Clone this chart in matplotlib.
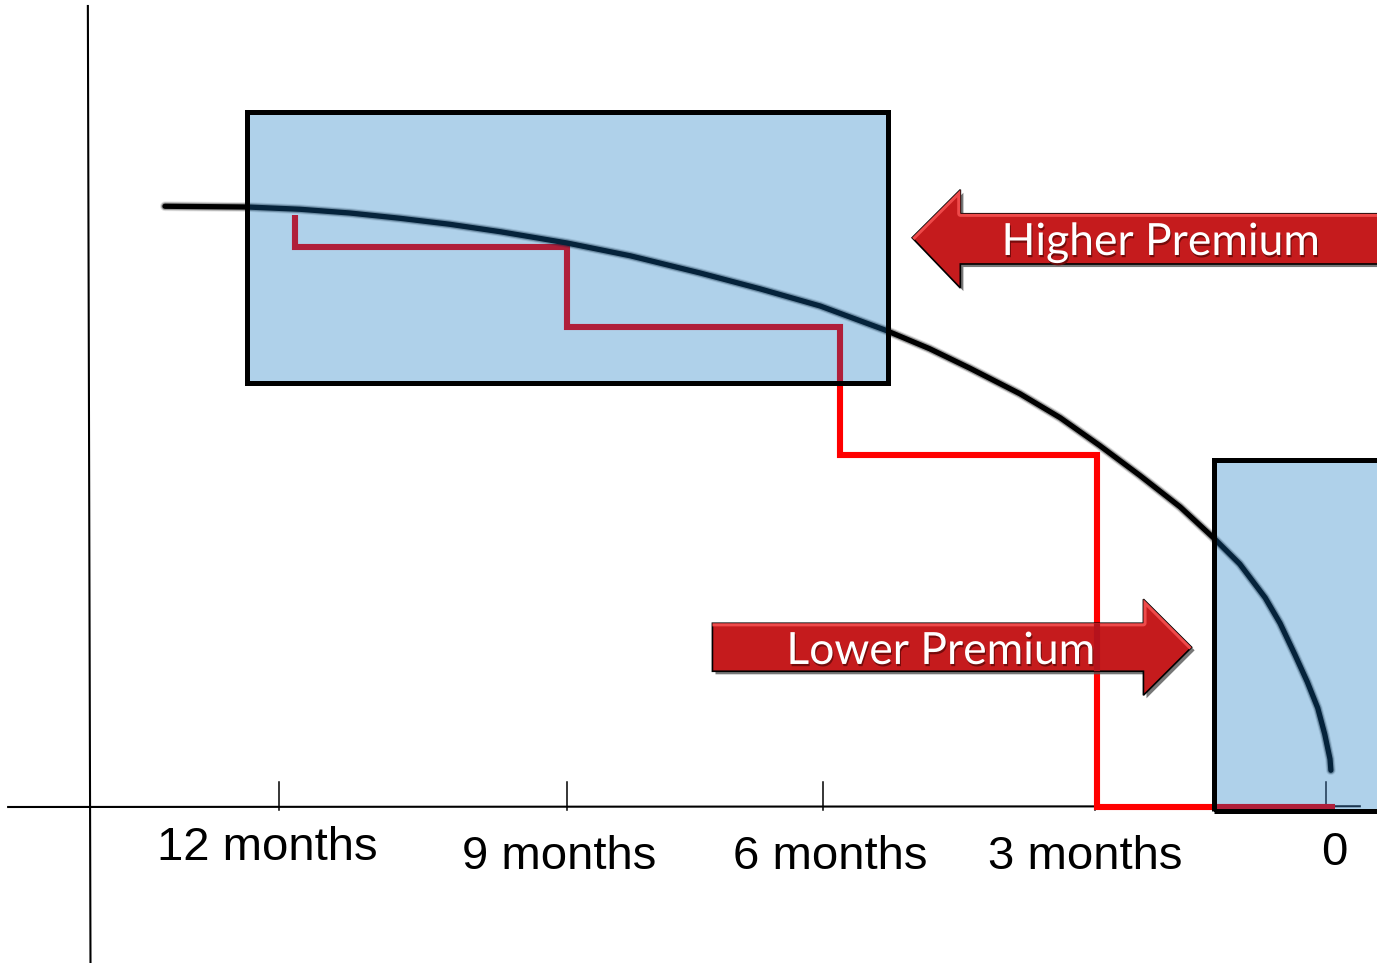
import numpy as np
import matplotlib.pyplot as plt
import matplotlib.patheffects as pe
from matplotlib.patches import Rectangle, Polygon

# Courbe de valeur temps (mois avant échéance -> prime)
curve_months = [13.30, 12.36, 11.76, 11.19, 10.62, 10.05, 9.47, 8.71, 7.99,
                7.19, 6.51, 5.82, 5.08, 4.57, 4.11, 3.54, 3.08, 2.63, 2.17,
                1.71, 1.34, 1.03, 0.74, 0.57, 0.40, 0.26, 0.14, 0.06, 0.0, -0.01]
curve_value = [80.1, 80.0, 79.7, 79.2, 78.5, 77.7, 76.7, 75.2, 73.5,
               71.2, 69.1, 66.8, 63.6, 61.1, 58.5, 55.1, 51.9, 48.2, 44.2,
               40.0, 36.0, 32.4, 27.9, 24.5, 20.3, 16.7, 13.2, 9.7, 6.4, 4.9]

# Prime encaissée par palier de 3 mois
step_months = [11.82, 11.82, 8.71, 8.71, 5.59, 5.59, 2.66, 2.66, -0.06]
step_value = [78.9, 74.7, 74.7, 64.0, 64.0, 46.9, 46.9, 0.0, 0.0]

tick_months = [12.0, 8.71, 5.79, 2.68, 0.05]
tick_labels = ["12 months", "9 months", "6 months", "3 months", "0"]

BLEU = "#AFD1EA"
MARINE = "#05233B"
ROUGE = "#FF0000"
CRAMOISI = "#B01F3A"
FLECHE = "#C51B1D"

fig = plt.figure(figsize=(13.77, 9.63), dpi=100)
ax = fig.add_axes([0, 0, 1, 1])
ax.set_xlim(15.183, -0.5365)
ax.set_ylim(-20.8, 107.6)
ax.axis("off")


def tracer_axes(couleur, zorder, clip=None):
    """Axes et graduations."""
    arts = []
    arts += ax.plot([14.18, 14.15], [106.8, -20.8], color=couleur, lw=1.5, zorder=zorder)
    arts += ax.plot([15.09, -0.34], [0, 0.1], color=couleur, lw=1.5, zorder=zorder)
    for m in tick_months:
        arts += ax.plot([m, m], [3.4, -0.4], color=couleur, lw=1.1, zorder=zorder)
    if clip is not None:
        for a in arts:
            a.set_clip_path(clip)


def tracer_courbes(c_courbe, c_palier, zorder, clip=None):
    """Courbe de décroissance (un peu floue) + paliers de prime."""
    arts = []
    arts += ax.plot(step_months, step_value, color=c_palier, lw=4.4,
                    solid_joinstyle="miter", solid_capstyle="butt", zorder=zorder)
    for lw, a in [(7.0, 0.12), (5.5, 0.3), (3.8, 1.0)]:
        arts += ax.plot(curve_months, curve_value, color=c_courbe, lw=lw, alpha=a,
                        solid_capstyle="round", solid_joinstyle="round",
                        zorder=zorder + 0.1)
    if clip is not None:
        for a in arts:
            a.set_clip_path(clip)


# version normale (hors cadres)
tracer_axes("black", 1)
tracer_courbes("black", ROUGE, 2)

# cadres bleus : fond, puis traits assombris à l'intérieur, puis bordure
cadres = [(12.36, 56.5, 7.31, 36.2), (1.32, -0.47, 2.1, 46.8)]
for (x0, y0, w, h) in cadres:
    fond = Rectangle((x0, y0), -w, h, facecolor=BLEU, edgecolor="none", zorder=4)
    ax.add_patch(fond)
    tracer_axes("#1B3550", 5, clip=fond)
    tracer_courbes(MARINE, CRAMOISI, 5, clip=fond)
    ax.add_patch(Rectangle((x0, y0), -w, h, facecolor="none", edgecolor="black",
                           lw=3.6, joinstyle="miter", zorder=6))


def fleche(points, reflet, texte, tx, ty):
    poly = Polygon(points, closed=True, facecolor=FLECHE, edgecolor="black", lw=1.2,
                   joinstyle="miter", zorder=7,
                   path_effects=[pe.SimplePatchShadow(offset=(2.2, -2.2), shadow_rgbFace="#555555", alpha=0.8),
                                 pe.Normal()])
    ax.add_patch(poly)
    rx, ry = zip(*reflet)
    l, = ax.plot(rx, ry, color="#EF4A4A", lw=4.5, zorder=7.5)
    l.set_clip_path(poly)
    ax.text(tx, ty, texte, ha="center", va="baseline", color="white",
            family="Lato", fontsize=32, zorder=9,
            path_effects=[pe.withSimplePatchShadow(offset=(0.8, -1.6),
                                                   shadow_rgbFace="#6E0A0A", alpha=0.9)])
    return poly


fleche([(4.77, 75.9), (4.22, 82.3), (4.22, 79.1), (-0.7, 79.1),
        (-0.7, 72.4), (4.22, 72.4), (4.22, 69.2)],
       [(4.77, 75.9), (4.22, 82.3), (4.22, 79.1), (-0.7, 79.1)],
       "Higher Premium", 1.93, 73.6)

basse = fleche([(7.05, 24.5), (2.13, 24.5), (2.13, 27.7), (1.58, 21.3),
                (2.13, 14.9), (2.13, 18.1), (7.05, 18.1)],
               [(7.05, 24.5), (2.13, 24.5), (2.13, 27.7), (1.58, 21.3)],
               "Lower Premium", 4.44, 19.07)

# le palier vertical passe par-dessus la flèche basse
trait, = ax.plot(step_months, step_value, color="#B5121C", lw=4.4, zorder=8)
trait.set_clip_path(basse)

# libellés de l'axe des temps
positions = [(12.13, -7.1), (8.80, -8.3), (5.71, -8.3), (2.79, -8.3), (-0.05, -7.7)]
for lab, (x, y) in zip(tick_labels, positions):
    ax.text(x, y, lab, ha="center", va="baseline", family="Liberation Sans",
            fontsize=34, color="black", zorder=9)

fig.savefig("out.png", dpi=100, facecolor="white")
